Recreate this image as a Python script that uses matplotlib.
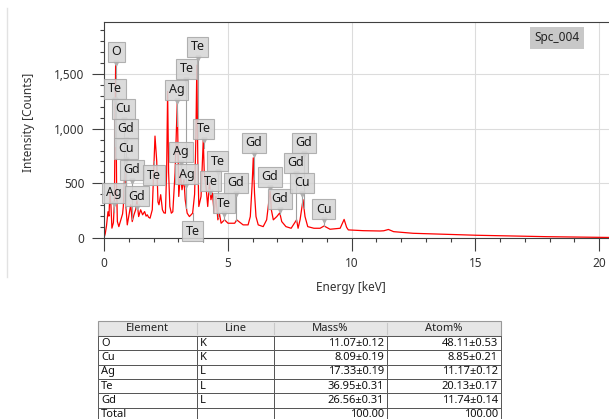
import numpy as np
import matplotlib
matplotlib.use("Agg")
import matplotlib.pyplot as plt
from matplotlib.ticker import MultipleLocator, FuncFormatter
from matplotlib.patches import Rectangle
from matplotlib.lines import Line2D

plt.rcParams['font.family'] = ['Noto Sans', 'DejaVu Sans']

# spectrum (keV, counts)
energy = [0.00, 0.05, 0.10, 0.16, 0.20, 0.24, 0.28, 0.32, 0.38, 0.42, 0.47, 0.51,
          0.54, 0.60, 0.66, 0.70, 0.75, 0.78, 0.84, 0.88, 0.94, 1.01, 1.08, 1.14,
          1.21, 1.28, 1.33, 1.40, 1.48, 1.56, 1.64, 1.70, 1.75, 1.80, 1.86, 1.95,
          2.02, 2.06, 2.13, 2.18, 2.22, 2.29, 2.36, 2.42, 2.48, 2.53, 2.57, 2.61,
          2.66, 2.72, 2.78, 2.87, 2.96, 3.02, 3.09, 3.15, 3.23, 3.28, 3.36, 3.45,
          3.58, 3.66, 3.71, 3.75, 3.79, 3.83, 3.92, 4.01, 4.05, 4.12, 4.19, 4.26,
          4.32, 4.38, 4.45, 4.52, 4.60, 4.66, 4.73, 4.87, 5.01, 5.15, 5.28, 5.36,
          5.62, 5.82, 5.91, 5.98, 6.03, 6.08, 6.14, 6.23, 6.43, 6.57, 6.65, 6.71,
          6.76, 6.84, 6.98, 7.10, 7.18, 7.35, 7.56, 7.78, 7.84, 7.92, 8.04, 8.12,
          8.23, 8.48, 8.73, 8.89, 9.13, 9.54, 9.70, 9.80, 9.87, 10.47, 11.15, 11.30,
          11.49, 11.70, 12.49, 13.85, 15.06, 16.50, 17.90, 19.90, 20.40]
counts = [0, 40, 110, 240, 200, 420, 300, 90, 140, 330, 1600, 450,
          150, 104, 150, 181, 220, 288, 610, 300, 120, 212, 304, 150,
          212, 260, 340, 196, 258, 212, 242, 200, 212, 190, 181, 258,
          702, 932, 702, 330, 304, 396, 258, 230, 227, 600, 1340, 600,
          288, 227, 240, 595, 1240, 380, 595, 441, 533, 350, 227, 196,
          227, 400, 900, 1580, 700, 288, 380, 900, 600, 472, 288, 503,
          350, 411, 227, 380, 166, 227, 135, 166, 135, 135, 135, 166,
          120, 120, 196, 472, 733, 411, 196, 120, 104, 166, 319, 450,
          258, 166, 196, 230, 150, 104, 89, 166, 89, 166, 350, 196,
          104, 89, 89, 110, 80, 89, 170, 98, 74, 67, 64, 66,
          78, 58, 43, 34, 25, 18, 12, 6, 5]

# peak labels
label_el = ['O', 'Te', 'Cu', 'Gd', 'Cu', 'Gd', 'Ag', 'Gd', 'Te',
            'Ag', 'Te', 'Te', 'Ag', 'Ag', 'Te', 'Te', 'Te', 'Te', 'Te',
            'Gd', 'Gd', 'Gd', 'Gd', 'Gd', 'Gd', 'Cu', 'Cu']
label_kev = [0.50, 0.44, 0.79, 0.89, 0.89, 1.13, 0.40, 1.33, 2.02,
             2.93, 3.33, 3.78, 3.11, 3.33, 4.02, 4.59, 4.30, 4.85, 3.58,
             5.33, 6.06, 6.71, 7.11, 8.08, 7.76, 8.00, 8.87]
# box heights (layout)
label_box_y = [1701, 1363, 1180, 997, 819, 622, 412, 384, 576,
               1354, 1546, 1747, 787, 585, 997, 704, 521, 320, 64,
               503, 869, 558, 357, 869, 686, 503, 265]

# quant table
tab_cols = ['Element', 'Line', 'Mass%', 'Atom%']
tab_el = ['O', 'Cu', 'Ag', 'Te', 'Gd', 'Total']
tab_line = ['K', 'K', 'L', 'L', 'L', '']
tab_mass = ['11.07±0.12', '8.09±0.19', '17.33±0.19', '36.95±0.31', '26.56±0.31', '100.00']
tab_atom = ['48.11±0.53', '8.85±0.21', '11.17±0.12', '20.13±0.17', '11.74±0.14', '100.00']

W, H = 609, 419
fig = plt.figure(figsize=(W / 100, H / 100), dpi=100)

def fx(x):
    return x / W

def fy(y):
    return 1 - y / H

ax = fig.add_axes([fx(104), fy(238), (W - 104) / W, (238 - 22) / H])
ax.plot(energy, counts, color='#ff0000', lw=0.9, zorder=2)
ax.set_xlim(0, 20.4)
ax.set_ylim(0, 1975)

dark = '#404040'
for s in ['left', 'bottom', 'top']:
    ax.spines[s].set_color(dark)
    ax.spines[s].set_linewidth(0.8)
ax.spines['right'].set_visible(False)

ax.xaxis.set_major_locator(MultipleLocator(5))
ax.xaxis.set_minor_locator(MultipleLocator(1))
ax.yaxis.set_major_locator(MultipleLocator(500))
ax.yaxis.set_minor_locator(MultipleLocator(100))
ax.yaxis.set_major_formatter(FuncFormatter(lambda v, p: '{:,.0f}'.format(v)))
ax.tick_params(which='major', length=9, width=0.8, color=dark, labelsize=8.5,
               labelcolor='#333333', pad=5)
ax.tick_params(which='minor', length=3, width=0.8, color=dark)
ax.tick_params(axis='x', which='both', top=False)
ax.grid(True, which='major', color='#dcdcdc', lw=0.8, zorder=0)
ax.set_axisbelow(True)

ax.set_xlabel('Energy [keV]', fontsize=8.5, color='#333333')
ax.set_ylabel('Intensity [Counts]', fontsize=8.5, color='#333333')
ax.xaxis.set_label_coords(0.489, -0.2)
ax.yaxis.set_label_coords(-0.137, 0.537)

ax.text(0.897, 0.926, 'Spc_004', transform=ax.transAxes, ha='center', va='center',
        fontsize=8.5, color='#222222',
        bbox=dict(boxstyle='square,pad=0.35', fc='#c8c8c8', ec='none'))

# labels with pointers
half = 90
for el, e, yb in zip(label_el, label_kev, label_box_y):
    ypk = np.interp(e, energy, counts)
    if ypk < yb:
        y0 = yb - half
        ax.plot([e, e], [y0, min(ypk, y0)], color='#a0a0a0', lw=0.8, zorder=3, clip_on=False)
        ax.plot([e], [y0 - 12], marker='v', ms=3.5, color='#b0b0b0', zorder=4, clip_on=False)
    else:
        y0 = yb + half
        ax.plot([e, e], [y0, ypk], color='#a0a0a0', lw=0.8, zorder=3, clip_on=False)
    ax.text(e, yb, el, ha='center', va='center', fontsize=9, color='#1a1a1a', zorder=5,
            clip_on=False,
            bbox=dict(boxstyle='square,pad=0.3', fc='#d6d6d6', ec='#a8a8a8', lw=0.8, alpha=0.88))

# left panel border
fig.add_artist(Line2D([fx(7), fx(7)], [fy(8), fy(277)], color='#e2e2e2', lw=1))

# table
col_x = [98, 197, 274, 387, 501]
top, head_h, row_h = 321, 15, 14.3
fig.add_artist(Rectangle((fx(col_x[0]), fy(top + head_h)), fx(col_x[-1] - col_x[0]), head_h / H,
                         transform=fig.transFigure, fc='#e6e6e6', ec='#999999', lw=0.8))
for i, name in enumerate(tab_cols):
    if 0 < i:
        fig.add_artist(Line2D([fx(col_x[i])] * 2, [fy(top + 2), fy(top + head_h - 2)],
                              color='#c8c8c8', lw=0.8))
    fig.text(fx((col_x[i] + col_x[i + 1]) / 2), fy(top + head_h / 2), name,
             ha='center', va='center', fontsize=8, color='#222222')

rows = list(zip(tab_el, tab_line, tab_mass, tab_atom))
for r, vals in enumerate(rows):
    y0 = top + head_h + r * row_h
    for c in range(4):
        fig.add_artist(Rectangle((fx(col_x[c]), fy(y0 + row_h)), fx(col_x[c + 1] - col_x[c]),
                                 row_h / H, transform=fig.transFigure, fc='white',
                                 ec='#555555', lw=0.7))
        yc = fy(y0 + row_h / 2)
        if c < 2:
            fig.text(fx(col_x[c] + 3), yc, vals[c], ha='left', va='center', fontsize=8,
                     color='#111111')
        else:
            fig.text(fx(col_x[c + 1] - 3), yc, vals[c], ha='right', va='center', fontsize=8,
                     color='#111111')

fig.savefig('out.png', dpi=100)
